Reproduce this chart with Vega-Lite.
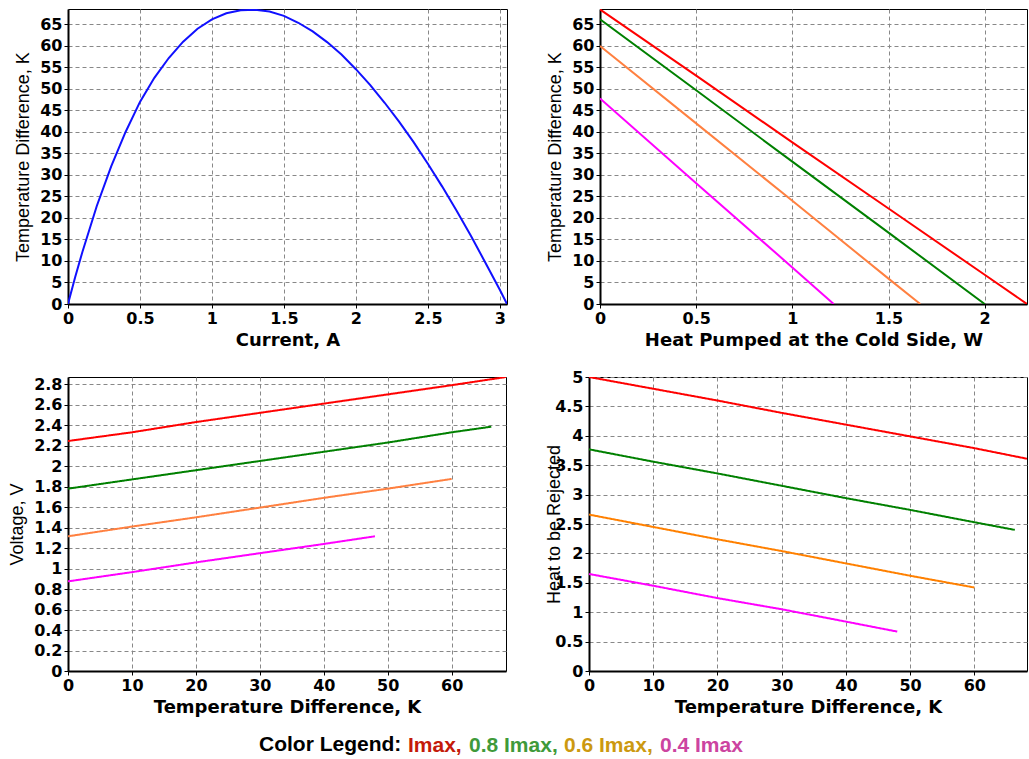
{
  "$schema": "https://vega.github.io/schema/vega-lite/v6.json",
  "background": "white",
  "padding": {"left": 8, "top": 8, "right": 1, "bottom": 5},
  "config": {
    "view": {"stroke": "black", "strokeWidth": 1},
    "axis": {
      "labelFont": "DejaVu Sans", "labelFontWeight": "bold", "labelFontSize": 16, "labelColor": "black",
      "titleFont": "DejaVu Sans", "titleFontWeight": "bold", "titleFontSize": 18, "titleColor": "black",
      "domainColor": "black", "domainWidth": 2, "tickColor": "black", "tickSize": 4, "tickWidth": 1,
      "grid": true, "gridColor": "#888888", "gridDash": [4, 3], "gridOpacity": 1, "gridWidth": 1,
      "labelFlush": false, "labelPadding": 2, "titlePadding": 5
    },
    "axisY": {"titleFont": "Liberation Sans", "titleFontWeight": "normal", "titleFontSize": 18, "titlePadding": 7},
    "legend": {
      "orient": "none", "direction": "horizontal",
      "titleFont": "Liberation Sans", "titleFontWeight": "bold", "titleFontSize": 21, "titleColor": "black", "titlePadding": 3,
      "labelFont": "Liberation Sans", "labelFontWeight": "bold", "labelFontSize": 21, "labelLimit": 300,
      "symbolType": "circle", "symbolSize": 0, "symbolOpacity": 0, "symbolStrokeWidth": 0, "labelOffset": -18, "columnPadding": 6
    },
    "line": {"strokeWidth": 2}
  },
  "datasets": {
    "current": [
      {"I": 0, "dT": 0}, {"I": 0.05, "dT": 6.3}, {"I": 0.1, "dT": 12.1}, {"I": 0.2, "dT": 22.8},
      {"I": 0.3, "dT": 32.0}, {"I": 0.4, "dT": 40.0}, {"I": 0.5, "dT": 47.0}, {"I": 0.6, "dT": 52.6},
      {"I": 0.7, "dT": 57.2}, {"I": 0.8, "dT": 61.0}, {"I": 0.9, "dT": 64.0}, {"I": 1.0, "dT": 66.2},
      {"I": 1.1, "dT": 67.6}, {"I": 1.2, "dT": 68.3}, {"I": 1.3, "dT": 68.4}, {"I": 1.4, "dT": 68.0},
      {"I": 1.5, "dT": 67.0}, {"I": 1.6, "dT": 65.4}, {"I": 1.7, "dT": 63.4}, {"I": 1.8, "dT": 60.9},
      {"I": 1.9, "dT": 58.0}, {"I": 2.0, "dT": 54.6}, {"I": 2.1, "dT": 50.9}, {"I": 2.2, "dT": 46.8},
      {"I": 2.3, "dT": 42.4}, {"I": 2.4, "dT": 37.7}, {"I": 2.5, "dT": 32.6}, {"I": 2.6, "dT": 27.3},
      {"I": 2.7, "dT": 21.7}, {"I": 2.8, "dT": 15.8}, {"I": 2.9, "dT": 9.6}, {"I": 3.0, "dT": 3.3},
      {"I": 3.05, "dT": 0}
    ],
    "pump": [
      {"level": "Imax", "Q": 0, "dT": 68.5}, {"level": "Imax", "Q": 0.5, "dT": 53.1}, {"level": "Imax", "Q": 1.0, "dT": 37.6},
      {"level": "Imax", "Q": 1.5, "dT": 22.2}, {"level": "Imax", "Q": 2.0, "dT": 6.8}, {"level": "Imax", "Q": 2.22, "dT": 0},
      {"level": "0.8 Imax", "Q": 0, "dT": 66.2}, {"level": "0.8 Imax", "Q": 0.5, "dT": 49.7}, {"level": "0.8 Imax", "Q": 1.0, "dT": 33.1},
      {"level": "0.8 Imax", "Q": 1.5, "dT": 16.6}, {"level": "0.8 Imax", "Q": 2.0, "dT": 0},
      {"level": "0.6 Imax", "Q": 0, "dT": 60.0}, {"level": "0.6 Imax", "Q": 0.5, "dT": 42.0}, {"level": "0.6 Imax", "Q": 1.0, "dT": 24.0},
      {"level": "0.6 Imax", "Q": 1.5, "dT": 5.9}, {"level": "0.6 Imax", "Q": 1.665, "dT": 0},
      {"level": "0.4 Imax", "Q": 0, "dT": 47.8}, {"level": "0.4 Imax", "Q": 0.5, "dT": 28.1}, {"level": "0.4 Imax", "Q": 1.0, "dT": 8.5},
      {"level": "0.4 Imax", "Q": 1.215, "dT": 0}
    ],
    "volt": [
      {"level": "Imax", "dT": 0, "V": 2.245}, {"level": "Imax", "dT": 10, "V": 2.33}, {"level": "Imax", "dT": 20, "V": 2.43},
      {"level": "Imax", "dT": 30, "V": 2.52}, {"level": "Imax", "dT": 40, "V": 2.61}, {"level": "Imax", "dT": 50, "V": 2.70},
      {"level": "Imax", "dT": 60, "V": 2.79}, {"level": "Imax", "dT": 68.5, "V": 2.87},
      {"level": "0.8 Imax", "dT": 0, "V": 1.78}, {"level": "0.8 Imax", "dT": 10, "V": 1.87}, {"level": "0.8 Imax", "dT": 20, "V": 1.96},
      {"level": "0.8 Imax", "dT": 30, "V": 2.05}, {"level": "0.8 Imax", "dT": 40, "V": 2.14}, {"level": "0.8 Imax", "dT": 50, "V": 2.23},
      {"level": "0.8 Imax", "dT": 60, "V": 2.33}, {"level": "0.8 Imax", "dT": 66.2, "V": 2.385},
      {"level": "0.6 Imax", "dT": 0, "V": 1.315}, {"level": "0.6 Imax", "dT": 10, "V": 1.41}, {"level": "0.6 Imax", "dT": 20, "V": 1.50},
      {"level": "0.6 Imax", "dT": 30, "V": 1.595}, {"level": "0.6 Imax", "dT": 40, "V": 1.69}, {"level": "0.6 Imax", "dT": 50, "V": 1.78},
      {"level": "0.6 Imax", "dT": 60, "V": 1.875},
      {"level": "0.4 Imax", "dT": 0, "V": 0.875}, {"level": "0.4 Imax", "dT": 10, "V": 0.965}, {"level": "0.4 Imax", "dT": 20, "V": 1.06},
      {"level": "0.4 Imax", "dT": 30, "V": 1.15}, {"level": "0.4 Imax", "dT": 40, "V": 1.24}, {"level": "0.4 Imax", "dT": 48, "V": 1.315}
    ],
    "heat": [
      {"level": "Imax", "dT": 0, "Qh": 5.0}, {"level": "Imax", "dT": 10, "Qh": 4.8}, {"level": "Imax", "dT": 20, "Qh": 4.6},
      {"level": "Imax", "dT": 30, "Qh": 4.39}, {"level": "Imax", "dT": 40, "Qh": 4.19}, {"level": "Imax", "dT": 50, "Qh": 3.99},
      {"level": "Imax", "dT": 60, "Qh": 3.79}, {"level": "Imax", "dT": 68.2, "Qh": 3.61},
      {"level": "0.8 Imax", "dT": 0, "Qh": 3.77}, {"level": "0.8 Imax", "dT": 10, "Qh": 3.56}, {"level": "0.8 Imax", "dT": 20, "Qh": 3.36},
      {"level": "0.8 Imax", "dT": 30, "Qh": 3.15}, {"level": "0.8 Imax", "dT": 40, "Qh": 2.94}, {"level": "0.8 Imax", "dT": 50, "Qh": 2.74},
      {"level": "0.8 Imax", "dT": 60, "Qh": 2.53}, {"level": "0.8 Imax", "dT": 66.3, "Qh": 2.40},
      {"level": "0.6 Imax", "dT": 0, "Qh": 2.66}, {"level": "0.6 Imax", "dT": 10, "Qh": 2.45}, {"level": "0.6 Imax", "dT": 20, "Qh": 2.24},
      {"level": "0.6 Imax", "dT": 30, "Qh": 2.04}, {"level": "0.6 Imax", "dT": 40, "Qh": 1.83}, {"level": "0.6 Imax", "dT": 50, "Qh": 1.62},
      {"level": "0.6 Imax", "dT": 60, "Qh": 1.42},
      {"level": "0.4 Imax", "dT": 0, "Qh": 1.65}, {"level": "0.4 Imax", "dT": 10, "Qh": 1.45}, {"level": "0.4 Imax", "dT": 20, "Qh": 1.24},
      {"level": "0.4 Imax", "dT": 30, "Qh": 1.05}, {"level": "0.4 Imax", "dT": 40, "Qh": 0.84}, {"level": "0.4 Imax", "dT": 48, "Qh": 0.67}
    ]
  },
  "resolve": {"scale": {"color": "independent", "strokeDash": "independent"}, "legend": {"color": "independent", "strokeDash": "independent"}},
  "spacing": 18,
  "vconcat": [
    {
      "bounds": "flush",
      "spacing": 93,
      "resolve": {"scale": {"color": "independent"}, "legend": {"color": "independent"}},
      "hconcat": [
        {
          "width": 439, "height": 295,
          "data": {"name": "current"},
          "mark": {"type": "line", "color": "#1010ff", "clip": true},
          "encoding": {
            "x": {"field": "I", "type": "quantitative", "scale": {"domain": [0, 3.05], "nice": false},
                  "axis": {"title": "Current, A", "values": [0, 0.5, 1, 1.5, 2, 2.5, 3], "format": "~g"}},
            "y": {"field": "dT", "type": "quantitative", "scale": {"domain": [0, 68.6], "nice": false},
                  "axis": {"title": "Temperature Difference, K", "values": [0, 5, 10, 15, 20, 25, 30, 35, 40, 45, 50, 55, 60, 65]}}
          }
        },
        {
          "width": 427, "height": 295,
          "data": {"name": "pump"},
          "mark": {"type": "line", "clip": true},
          "encoding": {
            "x": {"field": "Q", "type": "quantitative", "scale": {"domain": [0, 2.22], "nice": false},
                  "axis": {"title": "Heat Pumped at the Cold Side, W", "values": [0, 0.5, 1, 1.5, 2], "format": "~g"}},
            "y": {"field": "dT", "type": "quantitative", "scale": {"domain": [0, 68.6], "nice": false},
                  "axis": {"title": "Temperature Difference, K", "values": [0, 5, 10, 15, 20, 25, 30, 35, 40, 45, 50, 55, 60, 65]}},
            "color": {"field": "level", "type": "nominal", "legend": null,
                      "scale": {"domain": ["Imax", "0.8 Imax", "0.6 Imax", "0.4 Imax"], "range": ["#ff0000", "#008000", "#ff8040", "#ff00ff"]}}
          }
        }
      ]
    },
    {
      "bounds": "flush",
      "spacing": 83,
      "resolve": {"scale": {"color": "independent", "strokeDash": "independent"}, "legend": {"color": "independent", "strokeDash": "independent"}},
      "hconcat": [
        {
          "width": 438, "height": 294,
          "data": {"name": "volt"},
          "mark": {"type": "line", "clip": true},
          "encoding": {
            "x": {"field": "dT", "type": "quantitative", "scale": {"domain": [0, 68.5], "nice": false},
                  "axis": {"title": "Temperature Difference, K", "values": [0, 10, 20, 30, 40, 50, 60]}},
            "y": {"field": "V", "type": "quantitative", "scale": {"domain": [0, 2.87], "nice": false},
                  "axis": {"title": "Voltage, V", "values": [0, 0.2, 0.4, 0.6, 0.8, 1, 1.2, 1.4, 1.6, 1.8, 2, 2.2, 2.4, 2.6, 2.8], "format": "~g"}},
            "color": {"field": "level", "type": "nominal",
                      "scale": {"domain": ["Imax", "0.8 Imax", "0.6 Imax", "0.4 Imax"], "range": ["#ff0000", "#008000", "#ff8040", "#ff00ff"]},
                      "legend": {"values": ["Imax"], "legendX": 191, "legendY": 358, "title": "Color Legend:", "titleOrient": "left",
                                 "labelExpr": "datum.label + ','", "labelColor": "#c41a0a"}},
            "strokeDash": {"datum": "0.8 Imax", "type": "nominal",
                           "scale": {"domain": ["0.8 Imax"], "range": [[1, 0]]},
                           "legend": {"values": ["0.8 Imax"], "legendX": 398, "legendY": 358, "title": null,
                                      "labelExpr": "datum.label + ','", "labelColor": "#3f9a3a"}}
          }
        },
        {
          "width": 438, "height": 294,
          "data": {"name": "heat"},
          "mark": {"type": "line", "clip": true},
          "encoding": {
            "x": {"field": "dT", "type": "quantitative", "scale": {"domain": [0, 68.2], "nice": false},
                  "axis": {"title": "Temperature Difference, K", "values": [0, 10, 20, 30, 40, 50, 60]}},
            "y": {"field": "Qh", "type": "quantitative", "scale": {"domain": [0, 5], "nice": false},
                  "axis": {"title": "Heat to be Rejected", "values": [0, 0.5, 1, 1.5, 2, 2.5, 3, 3.5, 4, 4.5, 5], "format": "~g", "titleX": -26}},
            "color": {"field": "level", "type": "nominal",
                      "scale": {"domain": ["Imax", "0.8 Imax", "0.6 Imax", "0.4 Imax"], "range": ["#ff0000", "#008000", "#ff8000", "#ff00ff"]},
                      "legend": {"values": ["0.6 Imax"], "legendX": -28, "legendY": 358, "title": null,
                                 "labelExpr": "datum.label + ','", "labelColor": "#cc9910"}},
            "strokeDash": {"datum": "0.4 Imax", "type": "nominal",
                           "scale": {"domain": ["0.4 Imax"], "range": [[1, 0]]},
                           "legend": {"values": ["0.4 Imax"], "legendX": 68, "legendY": 358, "title": null,
                                      "labelColor": "#cc44a0"}}
          }
        }
      ]
    }
  ]
}
